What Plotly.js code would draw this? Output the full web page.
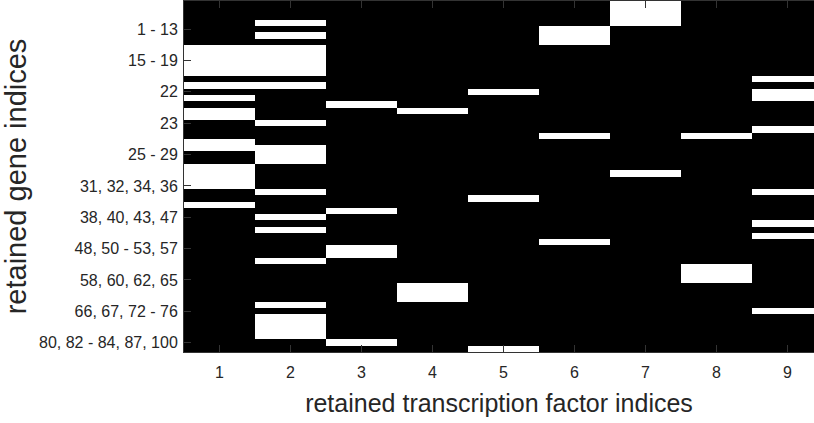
<!DOCTYPE html>
<html>
<head>
<meta charset="utf-8">
<script src="https://cdn.plot.ly/plotly-3.0.1.min.js"></script>
<style>html,body{margin:0;padding:0;background:#fff;}#chart{width:814px;height:423px;}</style>
</head>
<body>
<div id="chart"></div>
<script>
// Retained transcription factors (columns)
const tfIndices = [1, 2, 3, 4, 5, 6, 7, 8, 9];
// Number of retained genes (rows, top to bottom)
const geneCount = 56;
// Rows (1-based, from top) that are white (1) for each transcription factor
const tf1Rows = [8, 9, 10, 11, 12, 14, 16, 18, 19, 23, 24, 27, 28, 29, 30, 33];
const tf2Rows = [4, 6, 8, 9, 10, 11, 12, 14, 20, 24, 25, 26, 31, 35, 37, 42, 49, 51, 52, 53, 54];
const tf3Rows = [17, 34, 40, 41, 55];
const tf4Rows = [18, 46, 47, 48];
const tf5Rows = [15, 32, 56];
const tf6Rows = [5, 6, 7, 22, 39];
const tf7Rows = [1, 2, 3, 4, 28];
const tf8Rows = [22, 43, 44, 45];
const tf9Rows = [13, 15, 16, 21, 31, 36, 38, 50];
// Y tick positions (row numbers) and their labels
const geneTickRows = [5, 10, 15, 20, 25, 30, 35, 40, 45, 50, 55];
const geneTickLabels = ["1 - 13", "15 - 19", "22", "23", "25 - 29", "31, 32, 34, 36",
  "38, 40, 43, 47", "48, 50 - 53, 57", "58, 60, 62, 65", "66, 67, 72 - 76", "80, 82 - 84, 87, 100"];

const columns = [tf1Rows, tf2Rows, tf3Rows, tf4Rows, tf5Rows, tf6Rows, tf7Rows, tf8Rows, tf9Rows];
const rowIdx = [];
for (let r = 1; r <= geneCount; r++) rowIdx.push(r);
const z = rowIdx.map(r => columns.map(col => col.includes(r) ? 1 : 0));

const axisColor = '#333333';
const textColor = '#262626';
const sans = '"Liberation Sans", Arial, Helvetica, sans-serif';

const data = [{
  type: 'heatmap',
  x: tfIndices,
  y: rowIdx,
  z: z,
  zmin: 0, zmax: 1,
  colorscale: [[0, '#000000'], [1, '#ffffff']],
  showscale: false,
  hoverinfo: 'skip',
  xgap: 0, ygap: 0
}];

const layout = {
  width: 814, height: 423,
  margin: {l: 184, r: 0, t: 1, b: 71, pad: 0},
  paper_bgcolor: '#ffffff',
  plot_bgcolor: '#000000',
  showlegend: false,
  xaxis: {
    range: [0.5, 9.373],
    tickvals: tfIndices,
    ticktext: tfIndices.map(String),
    ticks: 'inside', ticklen: 7, tickwidth: 1, tickcolor: axisColor,
    showline: true, linecolor: axisColor, linewidth: 1, mirror: 'ticks',
    showgrid: false, zeroline: false,
    tickfont: {family: sans, size: 16, color: textColor},
    ticklabelstandoff: 6,
    title: {text: 'retained transcription factor indices', font: {family: sans, size: 25, color: textColor}, standoff: 14},
    fixedrange: true
  },
  yaxis: {
    range: [56.5, 0.5],
    tickvals: geneTickRows,
    ticktext: geneTickLabels,
    ticks: 'inside', ticklen: 7, tickwidth: 1, tickcolor: axisColor,
    showline: true, linecolor: axisColor, linewidth: 1, mirror: false,
    showgrid: false, zeroline: false,
    tickfont: {family: sans, size: 16, color: textColor},
    ticklabelstandoff: 2,
    title: {text: 'retained gene indices', font: {family: sans, size: 29, color: textColor}, standoff: 4},
    fixedrange: true
  }
};

Plotly.newPlot('chart', data, layout, {displayModeBar: false, staticPlot: true});
</script>
</body>
</html>
